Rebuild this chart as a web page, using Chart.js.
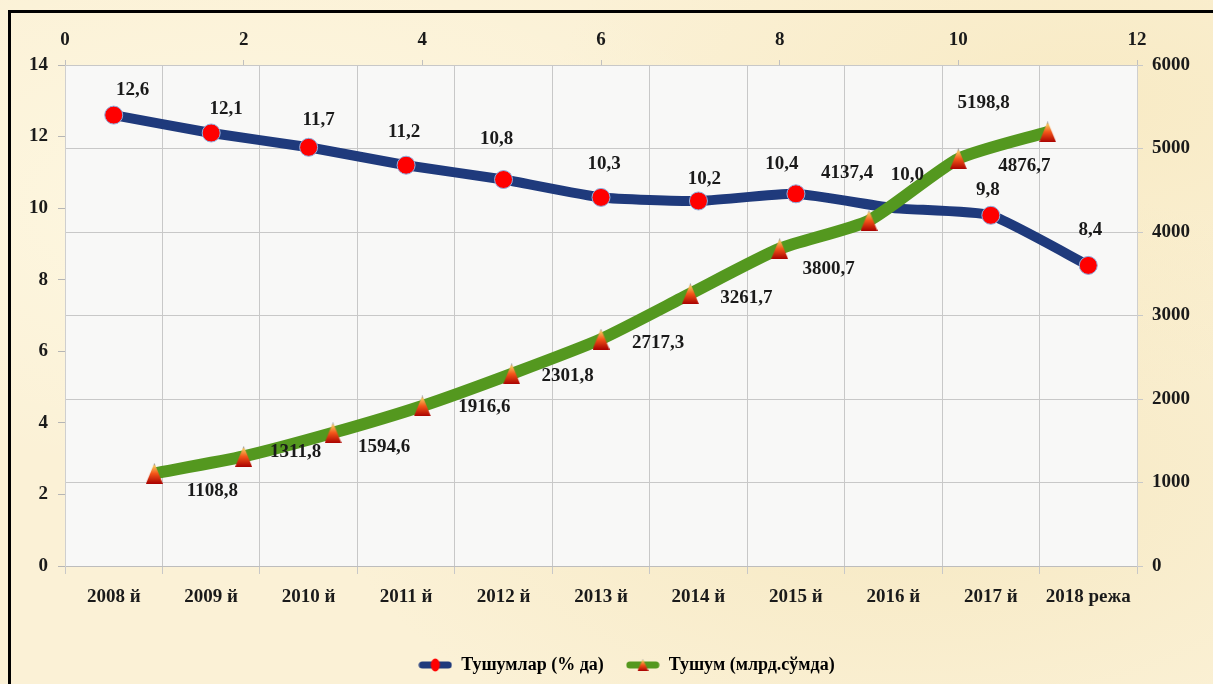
<!DOCTYPE html>
<html>
<head>
<meta charset="utf-8">
<script src="https://cdn.jsdelivr.net/npm/chart.js@4/dist/chart.umd.min.js"></script>
<style>
  html, body { margin: 0; padding: 0; }
  body {
    width: 1213px; height: 684px; overflow: hidden; position: relative;
    background:
      radial-gradient(ellipse at 20% 30%, rgba(255,250,230,0.7), rgba(255,250,230,0) 40%),
      radial-gradient(ellipse at 75% 70%, rgba(240,222,170,0.45), rgba(240,222,170,0) 45%),
      radial-gradient(ellipse at 90% 15%, rgba(245,228,180,0.5), rgba(245,228,180,0) 35%),
      #fbf1d6;
  }
  #frame {
    position: absolute; left: 8px; top: 10px; right: 0; bottom: 0;
    border-top: 3px solid #000; border-left: 3px solid #000;
  }
  #chart { position: absolute; left: 0; top: 0; }
</style>
</head>
<body>
<div id="frame"></div>
<canvas id="chart" width="1213" height="684"></canvas>
<script>
// categories (bottom axis)
const years = ['2008 й', '2009 й', '2010 й', '2011 й', '2012 й', '2013 й',
               '2014 й', '2015 й', '2016 й', '2017 й', '2018 режа'];

// Тушумлар (% да) - left axis
const shareValues = [12.6, 12.1, 11.7, 11.2, 10.8, 10.3, 10.2, 10.4, 10.0, 9.8, 8.4];

// Тушум (млрд.сўмда) - right axis, placed on the top 0..12 axis
const revenueX = [1, 2, 3, 4, 5, 6, 7, 8, 9, 10, 11];
const revenueValues = [1108.8, 1311.8, 1594.6, 1916.6, 2301.8, 2717.3,
                       3261.7, 3800.7, 4137.4, 4876.7, 5198.8];

// where each value label sits relative to its point
const shareLabelOffsets = [[19, -25], [15, -24], [10, -27], [-2, -33], [-7, -40], [3, -33],
                           [6, -22], [-14, -30], [14, -33], [-3, -25], [2, -35]];
const revenueLabelOffsets = [[58, 18], [52, -4], [51, 14], [62, 1], [56, 2], [57, 4],
                             [56, 4], [49, 20], [-22, -47], [66, 7], [-64, -29]];

const FONT = '"Liberation Serif", "Times New Roman", serif';
const BLUE = '#1f3a7c';
const GREEN = '#54981f';
const TEXT = '#1a1a1a';

function triangleMarker(w, h) {
  const c = document.createElement('canvas');
  c.width = w; c.height = h;
  const g = c.getContext('2d');
  const grad = g.createLinearGradient(0, 0, 0, h);
  grad.addColorStop(0, '#5a6a9a');
  grad.addColorStop(0.15, '#f6c45a');
  grad.addColorStop(0.5, '#f4561a');
  grad.addColorStop(1, '#a80000');
  g.fillStyle = grad;
  g.beginPath();
  g.moveTo(w / 2, 0);
  g.lineTo(w, h);
  g.lineTo(0, h);
  g.closePath();
  g.fill();
  return c;
}

function legendIcon(color, marker) {
  const c = document.createElement('canvas');
  c.width = 34; c.height = 14;
  const g = c.getContext('2d');
  g.strokeStyle = color;
  g.lineWidth = 7;
  g.lineCap = 'round';
  g.beginPath();
  g.moveTo(4, 7);
  g.lineTo(30, 7);
  g.stroke();
  if (marker === 'circle') {
    g.fillStyle = '#ff0000';
    g.beginPath();
    g.ellipse(17, 7, 4.5, 6.5, 0, 0, Math.PI * 2);
    g.fill();
  } else {
    g.drawImage(triangleMarker(11, 12), 11.5, 1);
  }
  return c;
}

const triangle = triangleMarker(17, 21);
const legendIcons = [legendIcon(BLUE, 'circle'), legendIcon(GREEN, 'triangle')];

// the 2016 circle is buried under the green line in the original
const shareRadius = shareValues.map((v, i) => (i === 8 ? 0 : 9));

const plotBackground = {
  id: 'plotBackground',
  beforeDraw(chart) {
    const { ctx, chartArea: a } = chart;
    ctx.save();
    ctx.fillStyle = '#f8f8f7';
    ctx.fillRect(a.left, a.top, a.right - a.left, a.bottom - a.top);
    ctx.restore();
  }
};

// nudge the legend a little right, like the original
const legendShift = {
  id: 'legendShift',
  afterLayout(chart) {
    chart.legend.left += 20;
    chart.legend.right += 20;
  }
};

const valueLabels = {
  id: 'valueLabels',
  afterDatasetsDraw(chart) {
    const ctx = chart.ctx;
    ctx.save();
    ctx.font = 'bold 19px ' + FONT;
    ctx.fillStyle = TEXT;
    ctx.textAlign = 'center';
    ctx.textBaseline = 'middle';
    const sets = [[shareValues, shareLabelOffsets], [revenueValues, revenueLabelOffsets]];
    sets.forEach(([vals, offs], i) => {
      chart.getDatasetMeta(i).data.forEach((pt, j) => {
        const txt = vals[j].toFixed(1).replace('.', ',');
        ctx.fillText(txt, pt.x + offs[j][0], pt.y + offs[j][1]);
      });
    });
    ctx.restore();
  }
};

const tickFont = { family: FONT, size: 19, weight: 'bold' };

new Chart(document.getElementById('chart').getContext('2d'), {
  type: 'line',
  data: {
    labels: years,
    datasets: [
      {
        label: 'Тушумлар (% да)',
        data: shareValues,
        xAxisID: 'x',
        yAxisID: 'y',
        order: 2,
        borderColor: BLUE,
        borderWidth: 10,
        tension: 0.15,
        pointRadius: shareRadius,
        pointBackgroundColor: '#ff0000',
        pointBorderColor: '#8fb0e0',
        pointBorderWidth: 1
      },
      {
        label: 'Тушум (млрд.сўмда)',
        data: revenueX.map((x, i) => ({ x: x, y: revenueValues[i] })),
        xAxisID: 'x2',
        yAxisID: 'y1',
        order: 1,
        borderColor: GREEN,
        borderWidth: 12,
        tension: 0.2,
        pointStyle: triangle,
        pointRadius: 10
      }
    ]
  },
  options: {
    responsive: false,
    animation: false,
    events: [],
    layout: { padding: 0 },
    plugins: {
      tooltip: { enabled: false },
      legend: {
        position: 'bottom',
        labels: {
          usePointStyle: true,
          pointStyleWidth: 34,
          padding: 22,
          color: TEXT,
          font: { family: FONT, size: 18, weight: 'bold' },
          generateLabels: chart => chart.data.datasets.map((ds, i) => ({
            text: ds.label,
            pointStyle: legendIcons[i],
            datasetIndex: i,
            fillStyle: ds.borderColor,
            strokeStyle: ds.borderColor,
            lineWidth: 0,
            hidden: false
          }))
        }
      }
    },
    scales: {
      x: {
        type: 'category',
        position: 'bottom',
        offset: true,
        grid: { offset: true, color: '#c8c8c8', tickLength: 8 },
        border: { color: '#bdbdbd' },
        ticks: { color: TEXT, font: tickFont, padding: 12, maxRotation: 0 },
        afterFit: s => { s.height = 68; }
      },
      x2: {
        type: 'linear',
        position: 'top',
        min: 0,
        max: 12,
        grid: { drawOnChartArea: false, color: '#c0c0c0', tickLength: 5 },
        border: { display: false },
        ticks: { stepSize: 2, color: TEXT, font: tickFont, padding: 9 },
        afterFit: s => { s.height = 65; }
      },
      y: {
        position: 'left',
        min: 0,
        max: 14,
        grid: { drawOnChartArea: false, color: '#b5b5b5', tickLength: 7 },
        border: { color: '#cfcfcf' },
        ticks: { stepSize: 2, color: TEXT, font: tickFont, padding: 10 },
        afterFit: s => { s.width = 65; }
      },
      y1: {
        position: 'right',
        min: 0,
        max: 6000,
        grid: { color: '#c8c8c8', tickLength: 6 },
        border: { color: '#cfcfcf' },
        ticks: { stepSize: 1000, color: TEXT, font: tickFont, padding: 9,
                 callback: v => String(v) },
        afterFit: s => { s.width = 76; }
      }
    }
  },
  plugins: [plotBackground, legendShift, valueLabels]
});
</script>
</body>
</html>
